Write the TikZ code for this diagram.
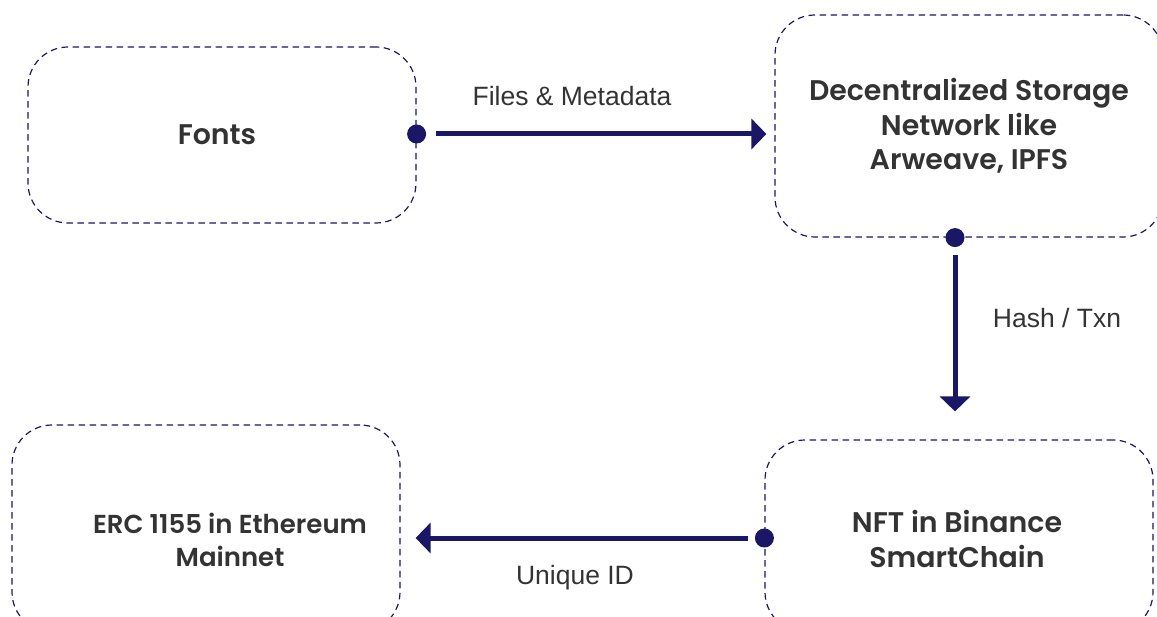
\documentclass[tikz,border=0pt]{standalone}
\usepackage{fontspec}
\setmainfont{Liberation Sans}
\newfontfamily\boxfont{Poppins}[BoldFont={Poppins SemiBold}]
\usetikzlibrary{arrows.meta}
\definecolor{navy}{HTML}{1C1666}
\definecolor{txt}{HTML}{333333}
\begin{document}
\begin{tikzpicture}[x=1pt,y=1pt,
  boxst/.style={draw=navy, line width=1.2pt, dash pattern=on 6.5pt off 4.5pt, rounded corners=40pt, inner sep=0pt},
  lbl/.style={text=txt, font=\boxfont\bfseries\fontsize{28.4}{34.5}\selectfont, align=center},
  slbl/.style={text=txt, font=\boxfont\bfseries\fontsize{26}{32.5}\selectfont, align=center},
  elbl/.style={text=txt, font=\fontsize{26.5}{30}\selectfont},
  arr/.style={draw=navy, line width=5pt, -{Triangle[length=15pt,width=30pt]}},
  dotst/.style={circle, fill=navy, inner sep=0pt, minimum size=19pt}
]
\useasboundingbox (0,0) rectangle (1157,-617);
% boxes
\node[boxst, minimum width=388pt, minimum height=176pt] (b1) at (222,-135) {};
\node[boxst, minimum width=388pt, minimum height=222pt] (b2) at (969,-126) {};
\node[boxst, minimum width=388pt, minimum height=207pt] (b3) at (206,-528.5) {};
\node[boxst, minimum width=388pt, minimum height=192pt] (b4) at (959,-536) {};
% labels
\node[lbl] (t1) at (217,-135) {Fonts};
\node[lbl] (t2) at (969,-126) {Decentralized Storage\\Network like\\Arweave, IPFS};
\node[slbl] (t3) at (230,-540) {ERC 1155 in Ethereum\\Mainnet};
\node[lbl] (t4) at (957,-539) {NFT in Binance\\SmartChain};
% dots
\node[dotst] (d1) at (b1.east |- 0,-134) {};
\node[dotst] (d2) at (b2.south -| 955,0) {};
\node[dotst] (d4) at (b4.west |- 0,-538) {};
% arrows
\coordinate (e1) at ([xshift=-8pt]b2.west |- d1);
\coordinate (e2) at ([yshift=28pt]b4.north -| d2);
\coordinate (e3) at ([xshift=15pt]b3.east |- d4);
\draw[arr] ([xshift=10pt]d1.east) -- (e1);
\draw[arr] ([yshift=-8pt]d2.south) -- (e2);
\draw[arr] ([xshift=-7pt]d4.west) -- (e3);
% edge labels
\node[elbl] (l1) at (572,-96) {Files \& Metadata};
\node[elbl] (l2) at (1057,-318) {Hash / Txn};
\node[elbl] (l3) at (575,-578) {Unique ID};
\end{tikzpicture}
\end{document}
